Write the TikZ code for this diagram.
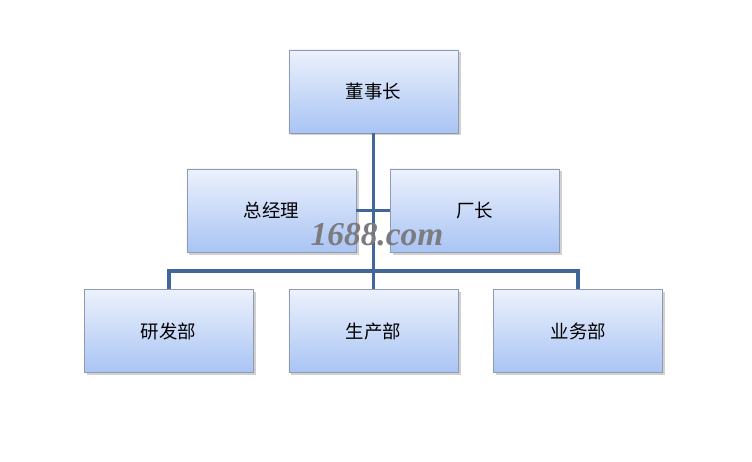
\documentclass[tikz,border=0pt]{standalone}
\usepackage{fontspec}
\setmainfont{Liberation Serif}
\newfontfamily\cjk{Noto Sans CJK SC}
\usepackage{tikz}
\usetikzlibrary{positioning,calc,shadows}
\definecolor{Trunk}{HTML}{41669A}
\definecolor{BoxTop}{HTML}{ECF1FC}
\definecolor{BoxBot}{HTML}{A9C4F4}
\definecolor{Edge}{HTML}{8E9BB2}
\definecolor{Mark}{HTML}{7C7C80}
\tikzset{
  link/.style={line width=2.2pt,draw=Trunk},
  orgbox/.style={draw=Edge,line width=0.5pt,top color=BoxTop,bottom color=BoxBot,
    minimum width=3.38cm,minimum height=1.66cm,inner sep=0pt,
    font=\cjk\fontsize{10.5}{12}\selectfont,
    drop shadow={shadow xshift=0.05cm,shadow yshift=-0.05cm,opacity=0.3,fill=black!60}}
}
\begin{document}
\begin{tikzpicture}[node distance=0.7cm]
  \useasboundingbox[fill=white] (-7.47,1.83) rectangle (7.57,-7.41);
  \node[orgbox] (ceo) at (0,0) {董事长};
  \node[orgbox] (gm) at ($(ceo)+(-2.04,-2.38)$) {总经理};
  \node[orgbox] (fac) at ($(ceo)+(2.02,-2.38)$) {厂长};
  \node[orgbox,below=3.12cm of ceo] (prod) {生产部};
  \node[orgbox,left=of prod] (rd) {研发部};
  \node[orgbox,right=of prod] (biz) {业务部};
  \coordinate (bus) at ($(prod.north)+(0,0.37)$);
  \draw[link] (ceo.south)--(prod.north);
  \draw[link] (gm.east)--(fac.west);
  \draw[link] (rd.north) |- (bus) -| (biz.north);
  % watermark
  \node[text=Mark,font=\bfseries\itshape\fontsize{19}{20}\selectfont] (mark) at (0.07,-2.86) {1688.com};
\end{tikzpicture}
\end{document}
